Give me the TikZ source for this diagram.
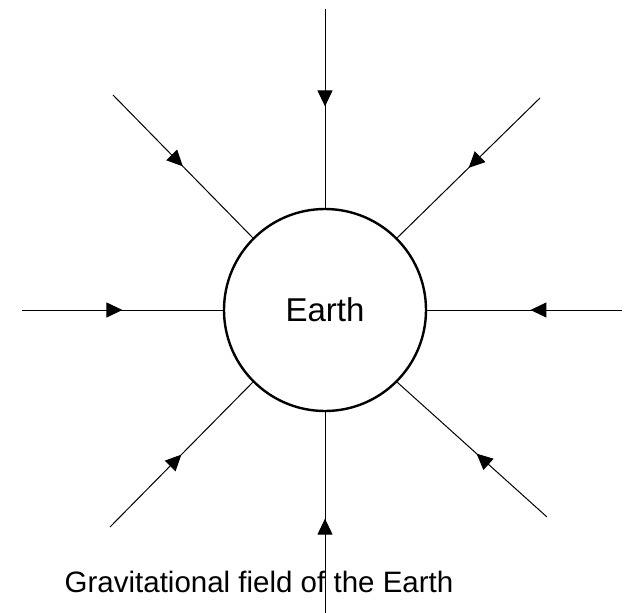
\documentclass[tikz,border=0pt]{standalone}
\usepackage{fontspec}
\setmainfont{Liberation Sans}
\usepackage{tikz}
\usetikzlibrary{arrows.meta,decorations.markings}

\begin{document}
\begin{tikzpicture}[
  x=1pt, y=-1pt,
  planet/.style={draw, circle, line width=2.4pt, minimum size=202pt, inner sep=0pt,
                 font=\fontsize{33}{38}\selectfont},
  fieldline/.style={line width=1pt, postaction={decorate},
                    decoration={markings, mark=at position #1 with {\arrow{Triangle[length=16pt, width=15pt]}}}},
  fieldline/.default=0.5,
  caption/.style={anchor=base, font=\fontsize{29.5}{34}\selectfont}
]
\useasboundingbox (0,0) rectangle (624,613);

\node[planet] (earth) at (325,310) {Earth};

\coordinate (n)  at (325,9);
\coordinate (s)  at (325,613);
\coordinate (w)  at (22,310);
\coordinate (e)  at (622,310);
\coordinate (nw) at (113,95);
\coordinate (ne) at (540,98);
\coordinate (sw) at (110,527);
\coordinate (se) at (547,517);

\node[caption] (cap) at (259,592) {Gravitational field of the Earth};

\draw[fieldline=0.49] (n) -- (earth.north);
\draw[fieldline=0.47] (s) -- (earth.south);
\draw[fieldline=0.5]  (w) -- (earth.west);
\draw[fieldline=0.47] (e) -- (earth.east);
\draw[fieldline] (nw) -- (earth.135);
\draw[fieldline] (ne) -- (earth.45);
\draw[fieldline] (sw) -- (earth.225);
\draw[fieldline=0.47] (se) -- (earth.315);
\end{tikzpicture}
\end{document}
